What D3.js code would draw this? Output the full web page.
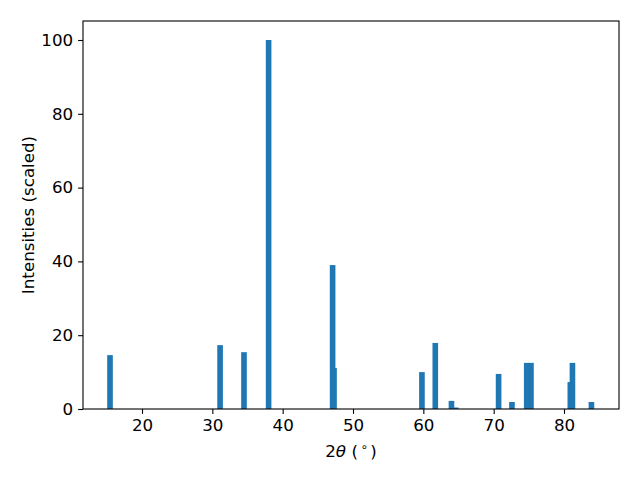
<!DOCTYPE html>
<html><head><meta charset="utf-8">
<script src="https://cdn.jsdelivr.net/npm/d3@7"></script>
<style>body{margin:0;background:#fff}svg{display:block}</style>
</head><body>
<svg id="c" width="640" height="480"></svg>
<script>
const positions = [15.45, 31.1, 34.5, 38.0, 47.1, 47.3, 59.8, 61.7, 64.0, 64.6, 70.7, 72.6, 74.7, 75.3, 80.9, 81.2, 83.9];
const intensities = [14.6, 17.3, 15.4, 100, 39.0, 11.1, 10.0, 17.9, 2.2, 0.4, 9.5, 1.9, 12.5, 12.5, 7.3, 12.5, 1.9];
const xTicks = [20, 30, 40, 50, 60, 70, 80];
const yTicks = [0, 20, 40, 60, 80, 100];
const barWidth = 0.8;

const svg = d3.select("#c");
const L = 83, R = 619, T = 21, B = 409;
const x = d3.scaleLinear().domain([11.61, 87.82]).range([L, R]);
const y = d3.scaleLinear().domain([0, 105.15]).range([B, T]);
const font = "DejaVu Sans";
const tickFs = 16.7, labelFs = 16.7;

svg.append("g").selectAll("rect").data(positions).join("rect")
  .attr("x", (d) => x(d - barWidth / 2))
  .attr("width", (d) => x(d + barWidth / 2) - x(d - barWidth / 2))
  .attr("y", (d, i) => y(intensities[i]))
  .attr("height", (d, i) => y(0) - y(intensities[i]))
  .attr("fill", "#1f77b4");

const xa = svg.append("g").attr("transform", `translate(0,${B})`)
  .call(d3.axisBottom(x).tickValues(xTicks).tickSize(4.9).tickPadding(4.9).tickFormat(d3.format("d")));
const ya = svg.append("g").attr("transform", `translate(${L},0)`)
  .call(d3.axisLeft(y).tickValues(yTicks).tickSize(4.9).tickPadding(4.9).tickFormat(d3.format("d")));
[xa, ya].forEach(a => {
  a.attr("font-family", font).attr("font-size", tickFs);
  a.select(".domain").remove();
  a.selectAll("line").attr("stroke", "#000").attr("stroke-width", 1.1);
  a.selectAll("text").attr("fill", "#000");
});

svg.append("rect").attr("x", L).attr("y", T).attr("width", R - L).attr("height", B - T)
  .attr("fill", "none").attr("stroke", "#000").attr("stroke-width", 1.1);

const xl = svg.append("text").attr("x", (L + R) / 2).attr("y", 457)
  .attr("text-anchor", "middle").attr("font-family", font).attr("font-size", labelFs).attr("fill", "#000");
xl.append("tspan").text("2");
xl.append("tspan").attr("font-style", "italic").text("θ");
xl.append("tspan").text(" (");
xl.append("tspan").attr("font-size", labelFs * 0.7).attr("dx", 2.5).attr("dy", -6).text("∘");
xl.append("tspan").attr("dx", 2.5).attr("dy", 6).text(")");

svg.append("text").attr("transform", `translate(34,${(T + B) / 2}) rotate(-90)`)
  .attr("text-anchor", "middle").attr("font-family", font).attr("font-size", labelFs).attr("fill", "#000")
  .text("Intensities (scaled)");
</script>
</body></html>
